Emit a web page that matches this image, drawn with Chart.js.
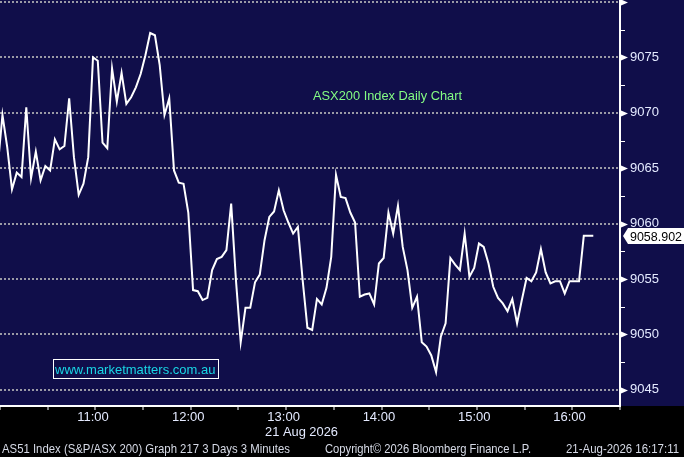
<!DOCTYPE html>
<html>
<head>
<meta charset="utf-8">
<script src="https://cdn.jsdelivr.net/npm/chart.js"></script>
<style>
  html, body { margin: 0; padding: 0; background: #000; }
  #wrap { width: 684px; height: 457px; }
</style>
</head>
<body>
<div id="wrap"><canvas id="asxChart" width="684" height="457"></canvas></div>
<script>
// AS51 intraday, 3 minute bars, minutes counted from 10:00
const barMinutes = 3;
const closes = [
  9065.1, 9069.8, 9066.9, 9063.1, 9064.6, 9064.2, 9070.5, 9064.1, 9066.5, 9063.9,
  9065.2, 9064.8, 9067.6, 9066.7, 9067.0, 9071.3, 9066.0, 9062.6, 9063.6, 9066.0,
  9075.0, 9074.7, 9067.3, 9066.8, 9074.0, 9071.0, 9073.6, 9070.8, 9071.4, 9072.3,
  9073.5, 9075.2, 9077.2, 9077.0, 9074.3, 9069.8, 9071.3, 9064.8, 9063.7, 9063.6,
  9061.0, 9054.0, 9053.9, 9053.1, 9053.3, 9055.8, 9056.8, 9057.0, 9057.6, 9061.8,
  9054.9, 9049.3, 9052.4, 9052.4, 9054.7, 9055.4, 9058.5, 9060.6, 9061.1, 9063.0,
  9061.2, 9060.1, 9059.1, 9059.7, 9054.9, 9050.6, 9050.4, 9053.2, 9052.7, 9054.2,
  9057.0, 9064.4, 9062.4, 9062.3, 9061.0, 9060.1, 9053.4, 9053.6, 9053.7, 9052.7,
  9056.4, 9056.9, 9061.0, 9059.1, 9061.6, 9057.9, 9055.8, 9052.4, 9053.4, 9049.3,
  9048.9, 9048.1, 9046.6, 9049.8, 9051.0, 9056.9, 9056.3, 9055.8, 9059.1, 9055.2,
  9056.0, 9058.2, 9057.9, 9056.4, 9054.3, 9053.3, 9052.8, 9052.1, 9053.2, 9051.0,
  9053.1, 9055.1, 9054.8, 9055.6, 9057.7, 9055.6, 9054.6, 9054.8, 9054.8, 9053.7,
  9054.8, 9054.8, 9054.8, 9058.9, 9058.9, 9058.902
];
const hourTicks = [60, 120, 180, 240, 300, 360];
const hourLabels = ['11:00', '12:00', '13:00', '14:00', '15:00', '16:00'];
const lastPrice = 9058.902;

const navy = '#100e4a';
const gridGrey = '#9a9aa6';
const labelColor = '#e4eaff';
const fontFam = "'Liberation Sans', Arial, sans-serif";

// x = minutes after 10:00 for each bar
const points = closes.map((v, i) => ({ x: i * barMinutes, y: v }));

const decorPlugin = {
  id: 'decor',
  beforeDraw(chart) {
    const { ctx, width, height, chartArea } = chart;
    ctx.save();
    ctx.fillStyle = '#000';
    ctx.fillRect(0, 0, width, height);
    ctx.fillStyle = navy;
    ctx.fillRect(0, 0, width, chartArea.bottom);
    ctx.restore();
  },
  afterDraw(chart) {
    const { ctx, chartArea, scales: { x, y } } = chart;
    const r = chartArea.right;
    ctx.save();

    // right axis: arrows on major ticks, short marks on minor ones
    ctx.fillStyle = '#fff';
    y.ticks.forEach(t => {
      const py = Math.round(y.getPixelForValue(t.value)) + 0.5;
      if (t.value % 5 === 0) {
        ctx.beginPath();
        ctx.moveTo(r + 1, py - 3);
        ctx.lineTo(r + 8, py);
        ctx.lineTo(r + 1, py + 3);
        ctx.closePath();
        ctx.fill();
      } else {
        ctx.fillRect(r + 1, py - 0.5, 4, 1);
      }
    });

    // hour labels under the axis
    ctx.fillStyle = labelColor;
    ctx.font = '13px ' + fontFam;
    ctx.textAlign = 'center';
    ctx.textBaseline = 'middle';
    hourTicks.forEach((m, i) => {
      ctx.fillText(hourLabels[i], x.getPixelForValue(m), 417);
    });
    ctx.textAlign = 'left';

    // last price tag
    const lp = Math.round(y.getPixelForValue(lastPrice));
    ctx.fillStyle = '#fff';
    ctx.beginPath();
    ctx.moveTo(r + 3, lp);
    ctx.lineTo(r + 8, lp - 8);
    ctx.lineTo(684, lp - 8);
    ctx.lineTo(684, lp + 8);
    ctx.lineTo(r + 8, lp + 8);
    ctx.closePath();
    ctx.fill();
    ctx.fillStyle = '#000';
    ctx.font = '13px ' + fontFam;
    ctx.fillText(lastPrice.toFixed(3), r + 10, lp + 1, 52);

    // chart title
    ctx.fillStyle = '#84fc84';
    ctx.font = '13px ' + fontFam;
    ctx.fillText('ASX200 Index Daily Chart', 313, 96, 149);

    // watermark
    ctx.strokeStyle = '#fff';
    ctx.lineWidth = 1;
    ctx.strokeRect(53.5, 359.5, 165, 19);
    ctx.fillStyle = '#19d6e4';
    ctx.font = '13px ' + fontFam;
    ctx.fillText('www.marketmatters.com.au', 55, 370, 161);

    // date under the axis
    ctx.fillStyle = labelColor;
    ctx.font = '13px ' + fontFam;
    ctx.fillText('21 Aug 2026', 265, 432, 73);

    // footer
    ctx.fillStyle = '#d6dae6';
    ctx.font = '13px ' + fontFam;
    ctx.fillText('AS51 Index (S&P/ASX 200) Graph 217 3 Days 3 Minutes', 2, 449, 288);
    ctx.fillText('Copyright\u00a9 2026 Bloomberg Finance L.P.', 325, 449, 206);
    ctx.fillText('21-Aug-2026 16:17:11', 566, 449, 113);

    ctx.restore();
  }
};

new Chart(document.getElementById('asxChart').getContext('2d'), {
  type: 'line',
  data: {
    datasets: [{
      data: points,
      borderColor: '#ffffff',
      borderWidth: 2,
      pointRadius: 0,
      tension: 0
    }]
  },
  options: {
    responsive: false,
    animation: false,
    layout: { padding: 0 },
    plugins: {
      legend: { display: false },
      tooltip: { enabled: false }
    },
    scales: {
      x: {
        type: 'linear',
        min: 1.45,
        max: 391.8,
        afterFit: s => {
          s.height = 51;
          s.paddingLeft = 0; s.paddingRight = 0;
          s.paddingTop = 0; s.paddingBottom = 0;
        },
        ticks: {
          display: false,
          stepSize: 30,
          includeBounds: false,
          autoSkip: false,
          maxRotation: 0
        },
        grid: {
          color: c => (c.tick && c.tick.value % 60 === 0 ? gridGrey : 'rgba(0,0,0,0)'),
          lineWidth: 2,
          drawTicks: true,
          tickLength: 4,
          tickColor: '#fff',
          tickWidth: 1
        },
        border: { display: true, color: '#fff', width: 2, dash: [2, 2] }
      },
      y: {
        position: 'right',
        min: 9043.54,
        max: 9080.18,
        afterFit: s => {
          s.width = 64;
          s.paddingLeft = 0; s.paddingRight = 0;
          s.paddingTop = 0; s.paddingBottom = 0;
        },
        ticks: {
          stepSize: 2.5,
          includeBounds: false,
          autoSkip: false,
          color: labelColor,
          font: { family: fontFam, size: 13 },
          padding: 10,
          callback: v => (v % 5 === 0 && v < 9080 ? String(v) : '')
        },
        grid: {
          color: c => (c.tick && c.tick.value % 5 === 0 ? gridGrey : 'rgba(0,0,0,0)'),
          lineWidth: 2,
          drawTicks: false
        },
        border: { display: true, color: '#fff', width: 2, dash: [2, 2] }
      }
    }
  },
  plugins: [decorPlugin]
});
</script>
</body>
</html>
